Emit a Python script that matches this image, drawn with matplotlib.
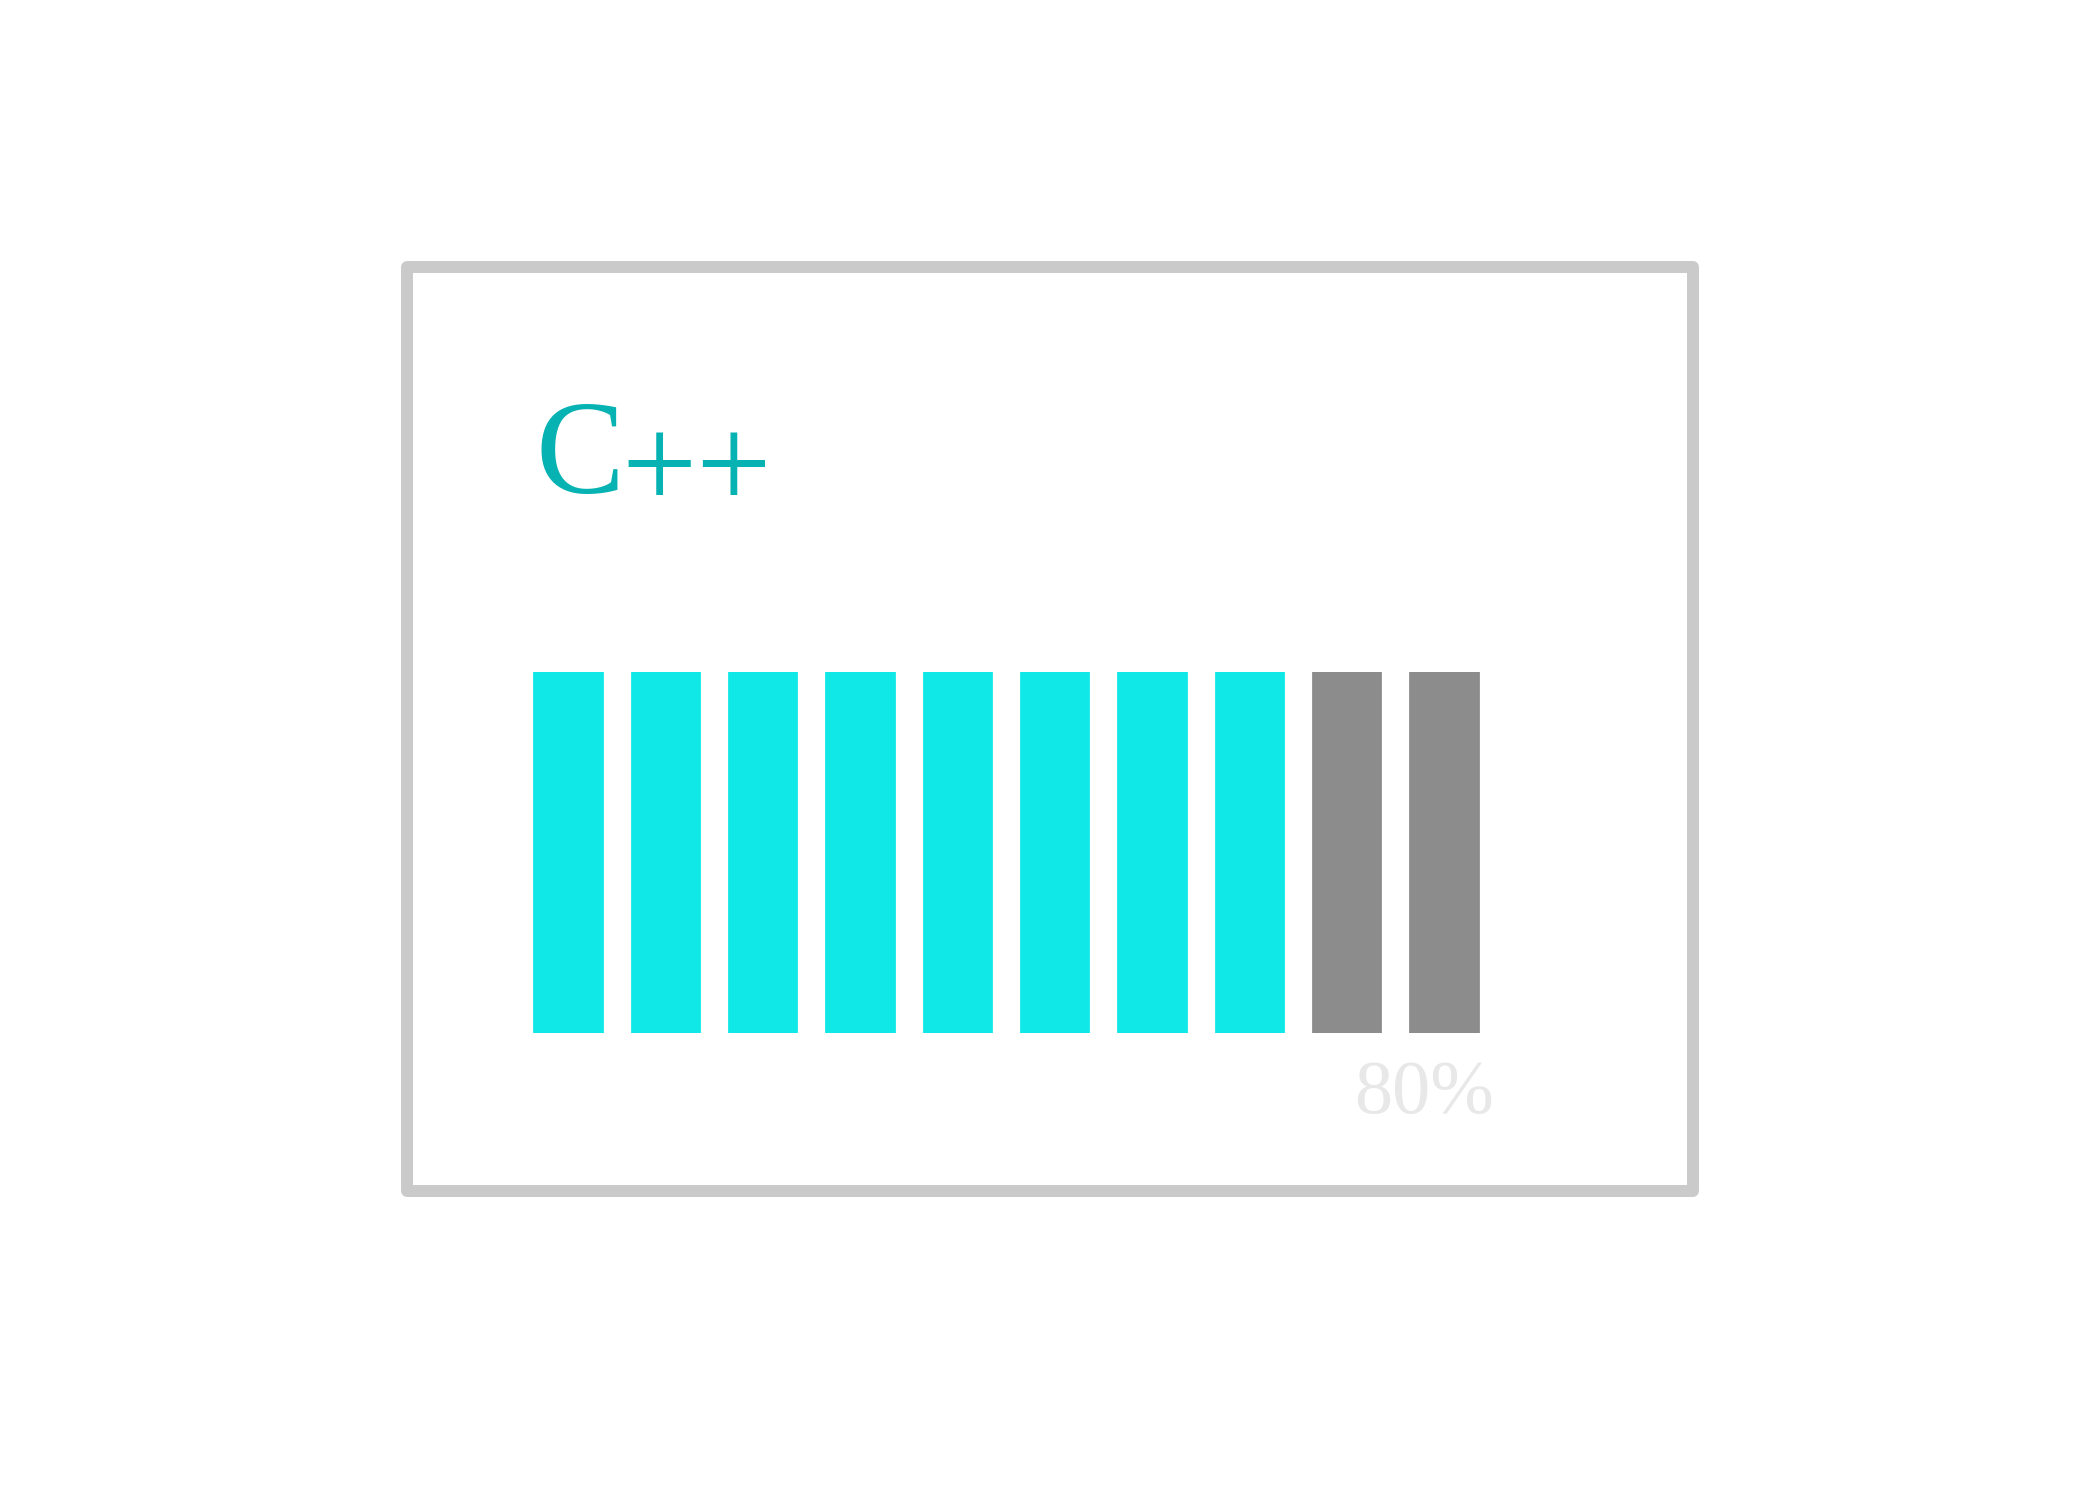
import matplotlib.pyplot as plt
from matplotlib.patches import Rectangle

# スキルバーのデータ
skill_name = "C++"
skill_percent = 80
segments = list(range(10))
segment_heights = [1] * len(segments)
filled_segments = skill_percent // 10

FILL_COLOR = "#10E8E8"
EMPTY_COLOR = "#8C8C8C"
TITLE_COLOR = "#07B2B2"
LABEL_COLOR = "#E8E8E8"
FRAME_COLOR = "#CACACA"


def plot_skill(output_path="out.png"):
    fig = plt.figure(figsize=(21, 15), dpi=100)

    # 外枠
    frame = Rectangle((0.1938, 0.206), 0.8062 - 0.1938, 0.8217 - 0.206,
                      transform=fig.transFigure, fill=False,
                      edgecolor=FRAME_COLOR, linewidth=8.6,
                      joinstyle="round")
    fig.patches.append(frame)

    # セグメントバー
    ax = fig.add_axes([0.2473, 0.3113, 0.4635, 0.2407])
    colors = [FILL_COLOR if i < filled_segments else EMPTY_COLOR
              for i in segments]
    ax.bar(segments, segment_heights, width=0.69, color=colors,
           edgecolor=colors, linewidth=2.0, joinstyle="round")
    ax.set_xlim(-0.5, len(segments) - 0.5)
    ax.set_ylim(0, 1)
    ax.axis("off")

    # タイトル（"C" と "++" を分けて、"+" をベースライン寄りに下げる）
    fig.text(0.2552, 0.6713, skill_name[0], family="Liberation Serif",
             fontsize=96, color=TITLE_COLOR, ha="left", va="baseline")
    fig.text(0.2957, 0.6613, skill_name[1:], family="Liberation Serif",
             fontsize=96, color=TITLE_COLOR, ha="left", va="baseline")

    # パーセント表示
    fig.text(0.7114, 0.258, f"{skill_percent}%", family="Liberation Serif",
             fontsize=55, color=LABEL_COLOR, ha="right", va="baseline")

    fig.savefig(output_path, dpi=100)


if __name__ == "__main__":
    plot_skill()
